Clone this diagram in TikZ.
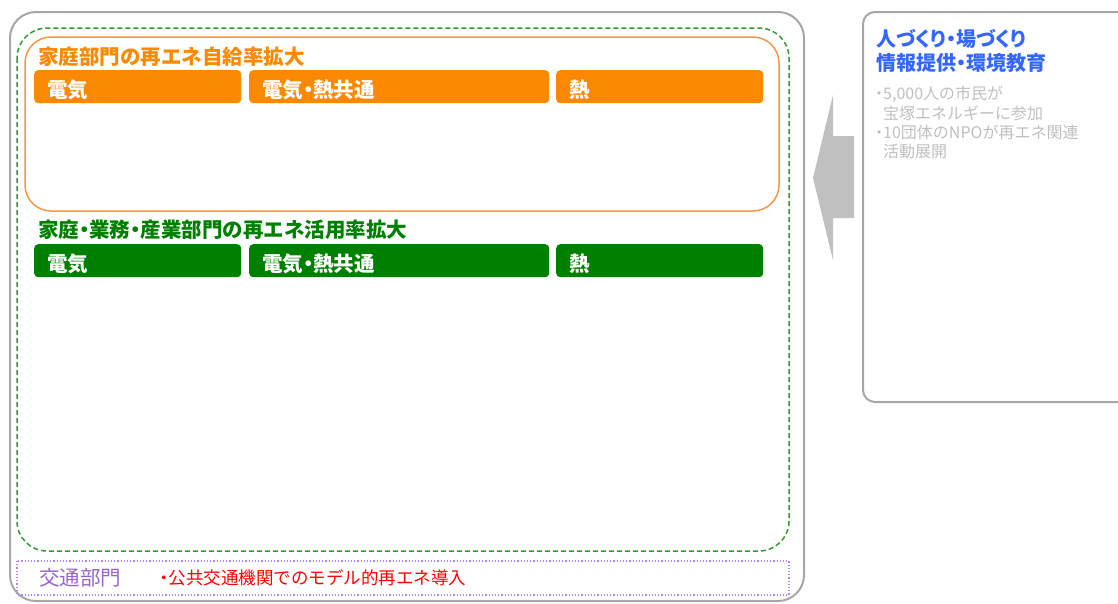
\documentclass[tikz,border=0pt]{standalone}
\usepackage{fontspec}
\setmainfont{Noto Sans CJK JP}
\newfontfamily\jpprop{Noto Sans CJK JP}[RawFeature=+palt]
\newcommand\nakaten{\hspace{-.25em}・\hspace{-.25em}}
\definecolor{waku}{RGB}{166,166,166}
\definecolor{orenji}{RGB}{250,136,0}
\definecolor{orenjisen}{RGB}{247,150,70}
\definecolor{midori}{RGB}{0,128,0}
\definecolor{midorisen}{RGB}{51,153,51}
\definecolor{murasaki}{RGB}{153,102,204}
\definecolor{murasakisen}{RGB}{184,130,240}
\definecolor{ao}{RGB}{51,102,255}
\definecolor{usuzumi}{RGB}{191,191,191}
\definecolor{yajirushi}{RGB}{192,192,192}

\begin{document}
\begin{tikzpicture}[x=1pt, y=-1pt,
  hako/.style={rounded corners=4pt, minimum height=33pt, inner xsep=13pt, inner ysep=0pt,
    text height=22.5pt, text depth=0pt, anchor=north west, align=left, text=white,
    font=\fontsize{20.5}{24}\selectfont\bfseries},
  midashi/.style={anchor=west, inner sep=0pt, font=\fontsize{20.5}{24}\selectfont\bfseries}]

\clip (0,0) rectangle (1118,603);

% 外枠
\draw[waku, line width=2pt, rounded corners=26pt] (10,12) rectangle (804,601);
\draw[midorisen, line width=1.5pt, dash pattern=on 5pt off 3pt, rounded corners=30pt] (17,28) rectangle (789,551);
\draw[orenjisen, line width=1.5pt, rounded corners=26pt] (25,37) rectangle (779,211);

% 家庭部門
\node[midashi, text=orenji] (katei) at (38,56.5) {家庭部門の再エネ自給率拡大};
\foreach \x/\w/\t/\n in {34/207/電気/a, 249/300/電気\nakaten 熱共通/b, 556/207/熱/c} {
  \pgfmathsetmacro\tw{\w-26}
  \node[hako, fill=orenji, text width=\tw pt] (kd\n) at (\x,70) {\t};
}

% 家庭・業務・産業部門
\node[midashi, text=midori] (sangyo) at (38,230) {家庭\nakaten 業務\nakaten 産業部門の再エネ活用率拡大};
\foreach \x/\w/\t/\n in {34/207/電気/a, 249/300/電気\nakaten 熱共通/b, 556/207/熱/c} {
  \pgfmathsetmacro\tw{\w-26}
  \node[hako, fill=midori, text width=\tw pt] (sg\n) at (\x,244) {\t};
}

% 交通部門
\draw[murasakisen, line width=1.2pt, dotted] (17,561) rectangle (789,595);
\node[anchor=west, inner sep=0pt, text=murasaki, font=\fontsize{20.5}{24}\selectfont] (kotsu) at (39,578) {交通部門};
\node[anchor=west, inner sep=0pt, text=red, font=\fontsize{17.5}{20}\selectfont] (kotsut) at (160,578) {\nakaten 公共交通機関でのモデル的再エネ導入};

% 矢印
\fill[yajirushi] (813,178) -- (833,95) -- (833,136) -- (854,136) -- (854,218) -- (833,218) -- (833,260) -- cycle;

% 人づくり・場づくり
\draw[waku, line width=2pt, rounded corners=12pt] (863,12) rectangle (1140,402);
\node[anchor=north west, inner sep=0pt, align=left, text=ao, font=\fontsize{20}{24}\jpprop\bfseries] (hito) at (876,29) {人づくり・場づくり\\情報提供・環境教育};
\node[anchor=north west, inner sep=0pt, align=left, text=usuzumi, font=\fontsize{16}{19.3}\selectfont] (kyoiku) at (875,86)
  {\nakaten 5,000人の市民が\\\hspace*{8pt}宝塚エネルギーに参加\\\nakaten 10団体のNPOが再エネ関連\\\hspace*{8pt}活動展開};

\end{tikzpicture}
\end{document}
